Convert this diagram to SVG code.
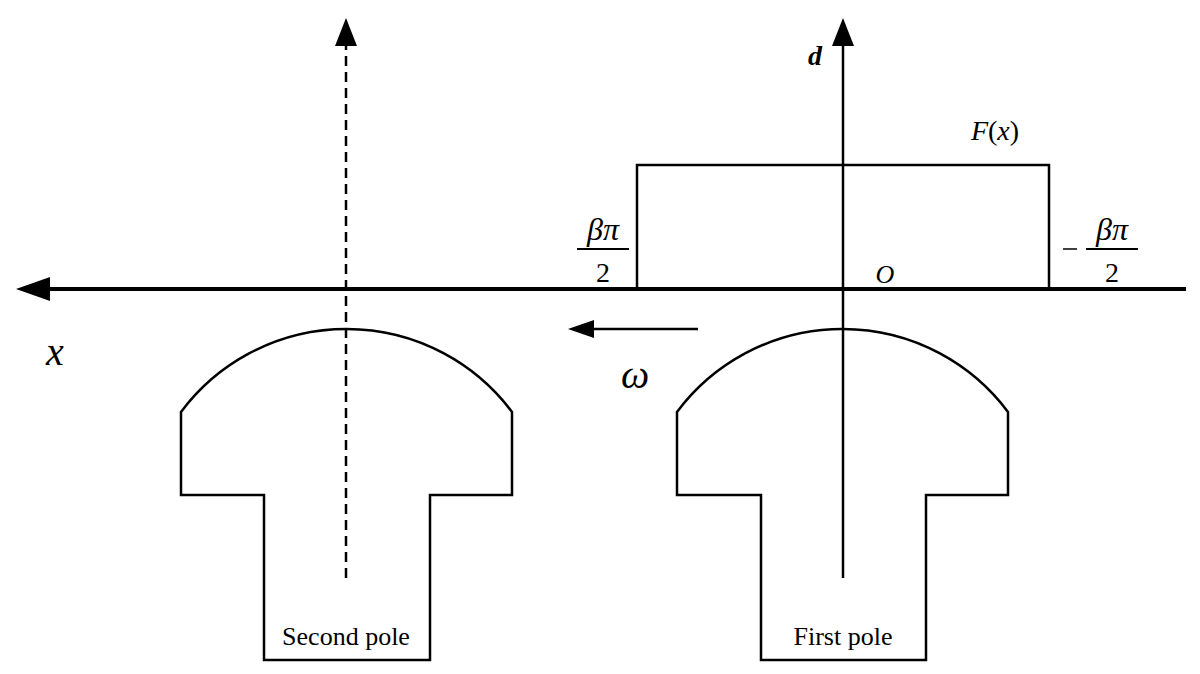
<svg xmlns="http://www.w3.org/2000/svg" width="1200" height="674" viewBox="0 0 1200 674">
<style>
.l{fill:none;stroke:#000;stroke-width:2.5}
.t{font-family:"Liberation Serif",serif;fill:#000}
.i{font-style:italic}
</style>
<rect width="1200" height="674" fill="#fff"/>
<g id="connectors">
<line x1="45" y1="289" x2="1186" y2="289" stroke="#000" stroke-width="4"/>
<polygon points="16,289 50,277 50,301"/>
<line class="l" x1="843" y1="40" x2="843" y2="578"/>
<polygon points="843,18 832,46 854,46"/>
<line class="l" x1="346" y1="40" x2="346" y2="578" stroke-dasharray="10,6"/>
<polygon points="346,18 335,46 357,46"/>
<line class="l" x1="590" y1="329" x2="698" y2="329"/>
<polygon points="568,329 594,320 594,338"/>
</g>
<g id="fx"><polyline class="l" points="637,289 637,165 1049,165 1049,289"/></g>
<g id="first-pole"><path class="l" d="M677,412 A206.5,206.5 0 0 1 1008,412 V495 H926 V660 H761 V495 H677 Z"/>
<text class="t" x="843" y="645" font-size="26" text-anchor="middle">First pole</text></g>
<g id="second-pole"><path class="l" d="M181,412 A206.5,206.5 0 0 1 512,412 V495 H430 V660 H264 V495 H181 Z"/>
<text class="t" x="346" y="645" font-size="26" text-anchor="middle">Second pole</text></g>
<g id="labels">
<text class="t i" x="815" y="65" font-size="28" font-weight="bold" text-anchor="middle">d</text>
<text class="t" x="995" y="140" font-size="28" text-anchor="middle"><tspan class="i">F</tspan>(<tspan class="i">x</tspan>)</text>
<text class="t i" x="603" y="240" font-size="32" text-anchor="middle">βπ</text>
<line x1="577" y1="249" x2="629" y2="249" stroke="#000" stroke-width="2"/>
<text class="t" x="603" y="282" font-size="28" text-anchor="middle">2</text>
<text class="t i" x="885" y="283" font-size="26" text-anchor="middle">O</text>
<line x1="1063" y1="249" x2="1077" y2="249" stroke="#000" stroke-width="1.5"/>
<text class="t i" x="1112" y="240" font-size="32" text-anchor="middle">βπ</text>
<line x1="1086" y1="249" x2="1138" y2="249" stroke="#000" stroke-width="2"/>
<text class="t" x="1112" y="282" font-size="28" text-anchor="middle">2</text>
<text class="t i" x="55" y="365" font-size="40" text-anchor="middle">x</text>
<text class="t i" x="635" y="388" font-size="40" text-anchor="middle">ω</text>
</g>
</svg>
